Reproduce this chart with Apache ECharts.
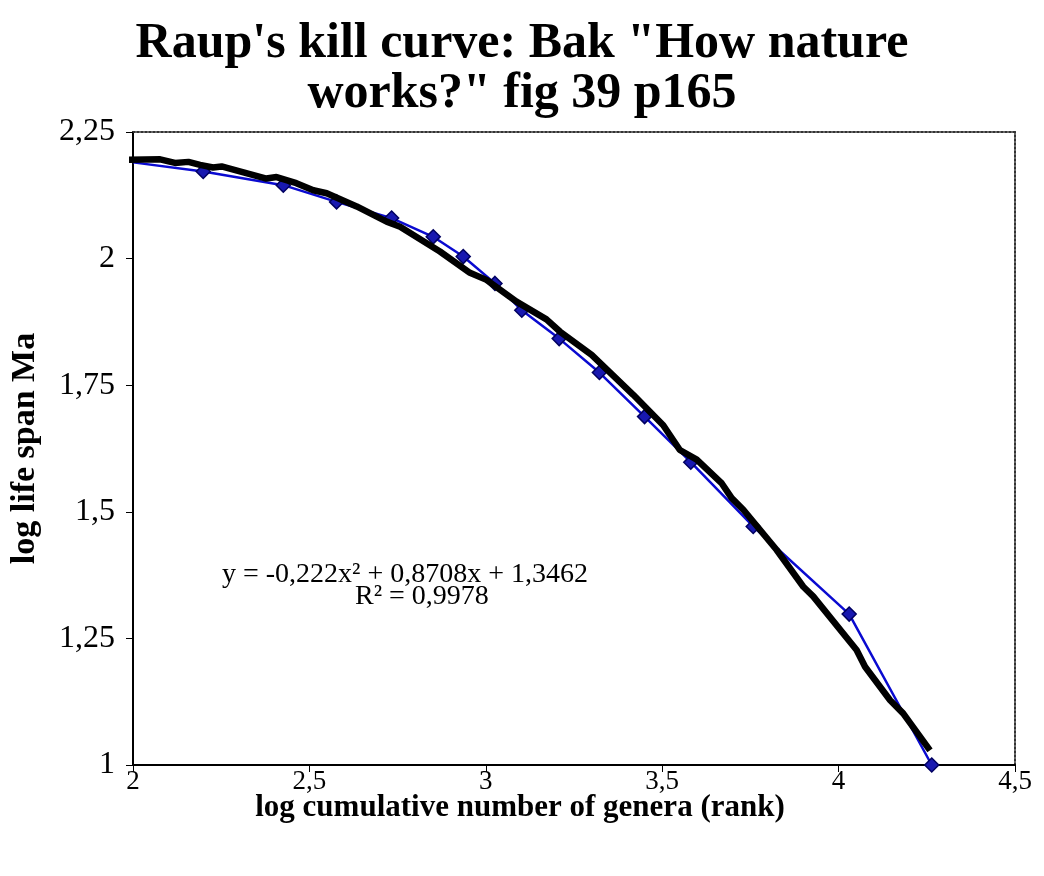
<!DOCTYPE html>
<html>
<head>
<meta charset="utf-8">
<script src="https://cdn.jsdelivr.net/npm/echarts@6/dist/echarts.min.js"></script>
<style>html,body{margin:0;padding:0;background:#fff}#c{width:1044px;height:876px}</style>
</head>
<body>
<div id="c"></div>
<script>
// Observed data (log rank, log life span)
const obsX = [2.0, 2.199, 2.426, 2.577, 2.733, 2.851, 2.936, 3.026, 3.102, 3.208, 3.322, 3.450, 3.581, 3.758, 4.030, 4.264];
const obsY = [2.19, 2.172, 2.145, 2.112, 2.080, 2.043, 2.004, 1.951, 1.898, 1.842, 1.775, 1.688, 1.598, 1.471, 1.298, 1.0];
// Trend curve as drawn (thick black line)
const fitX = [1.963, 2.077, 2.119, 2.157, 2.19, 2.227, 2.251, 2.378, 2.407, 2.463, 2.511, 2.549, 2.634, 2.719, 2.757, 2.870, 2.955, 3.002, 3.087, 3.172, 3.210, 3.300, 3.418, 3.503, 3.550, 3.598, 3.669, 3.697, 3.730, 3.824, 3.900, 3.928, 4.051, 4.075, 4.146, 4.183, 4.259];
const fitY = [2.195, 2.196, 2.189, 2.191, 2.185, 2.180, 2.182, 2.158, 2.161, 2.149, 2.135, 2.129, 2.103, 2.073, 2.063, 2.014, 1.972, 1.958, 1.915, 1.880, 1.856, 1.810, 1.731, 1.671, 1.622, 1.603, 1.556, 1.527, 1.504, 1.425, 1.352, 1.333, 1.227, 1.194, 1.128, 1.102, 1.029];
const xTicks = [2, 2.5, 3, 3.5, 4, 4.5];
const yTicks = [1, 1.25, 1.5, 1.75, 2, 2.25];
const titleText = 'Raup\'s kill curve: Bak "How nature\nworks?" fig 39 p165';
const eqLine1 = 'y = -0,222x² + 0,8708x + 1,3462';
const eqLine2 = 'R² = 0,9978';

const fmt = v => String(v).replace('.', ',');
const serif = '"Liberation Serif", "Times New Roman", serif';

const chart = echarts.init(document.getElementById('c'), null, {renderer: 'canvas'});
const frameAxis = {
  type: 'value', axisLabel: {show: false}, axisTick: {show: false}, splitLine: {show: false},
  axisLine: {show: true, lineStyle: {color: '#333', width: 2, type: [2, 2]}}
};
chart.setOption({
  animation: false,
  backgroundColor: '#fff',
  title: {
    text: titleText, left: 'center', top: 14, itemGap: 0,
    textStyle: {fontFamily: serif, fontWeight: 'bold', fontSize: 50, lineHeight: 50, color: '#000'}
  },
  grid: {left: 133, top: 132, right: 29, bottom: 111, show: false},
  xAxis: [{
    type: 'value', min: 2, max: 4.5, interval: 0.5,
    name: 'log cumulative number of genera (rank)', nameLocation: 'middle', nameGap: 27,
    nameMoveOverlap: false,
    nameTextStyle: {fontFamily: serif, fontWeight: 'bold', fontSize: 31, color: '#000', padding: [0, 108, 0, 0]},
    axisLine: {show: true, lineStyle: {color: '#000', width: 2}},
    axisTick: {show: true, length: 7, lineStyle: {color: '#000', width: 1}},
    axisLabel: {fontFamily: serif, fontSize: 27, color: '#000', margin: 3, formatter: fmt},
    splitLine: {show: false}
  }, Object.assign({position: 'top', min: 2, max: 4.5}, frameAxis)],
  yAxis: [{
    type: 'value', min: 1, max: 2.25, interval: 0.25,
    name: 'log life span Ma', nameLocation: 'middle', nameGap: 91, nameRotate: 90,
    nameTextStyle: {fontFamily: serif, fontWeight: 'bold', fontSize: 34, color: '#000'},
    axisLine: {show: true, lineStyle: {color: '#000', width: 2}},
    axisTick: {show: true, length: 7, lineStyle: {color: '#000', width: 1}},
    axisLabel: {fontFamily: serif, fontSize: 32, color: '#000', margin: 18, formatter: fmt},
    splitLine: {show: false}
  }, Object.assign({position: 'right', min: 1, max: 2.25}, frameAxis)],
  graphic: [
    {type: 'text', x: 222, y: 575, style: {text: eqLine1, font: '28px ' + serif, fill: '#000', align: 'left', verticalAlign: 'middle'}},
    {type: 'text', x: 355, y: 597, style: {text: eqLine2, font: '28px ' + serif, fill: '#000', align: 'left', verticalAlign: 'middle'}}
  ],
  series: [
    {
      type: 'line', name: 'observed', z: 2,
      data: obsX.map((x, i) => i === 0 ? {value: [x, obsY[i]], symbol: 'none'} : [x, obsY[i]]),
      symbol: 'diamond', symbolSize: 14, showSymbol: true,
      lineStyle: {color: '#0a0ad0', width: 2.5},
      itemStyle: {color: '#1818b0', borderColor: '#000060', borderWidth: 1.5}
    },
    {
      type: 'line', name: 'trend', z: 3, clip: false,
      data: fitX.map((x, i) => [x, fitY[i]]),
      symbol: 'none', lineStyle: {color: '#000', width: 6.5}
    }
  ]
});
</script>
</body>
</html>
